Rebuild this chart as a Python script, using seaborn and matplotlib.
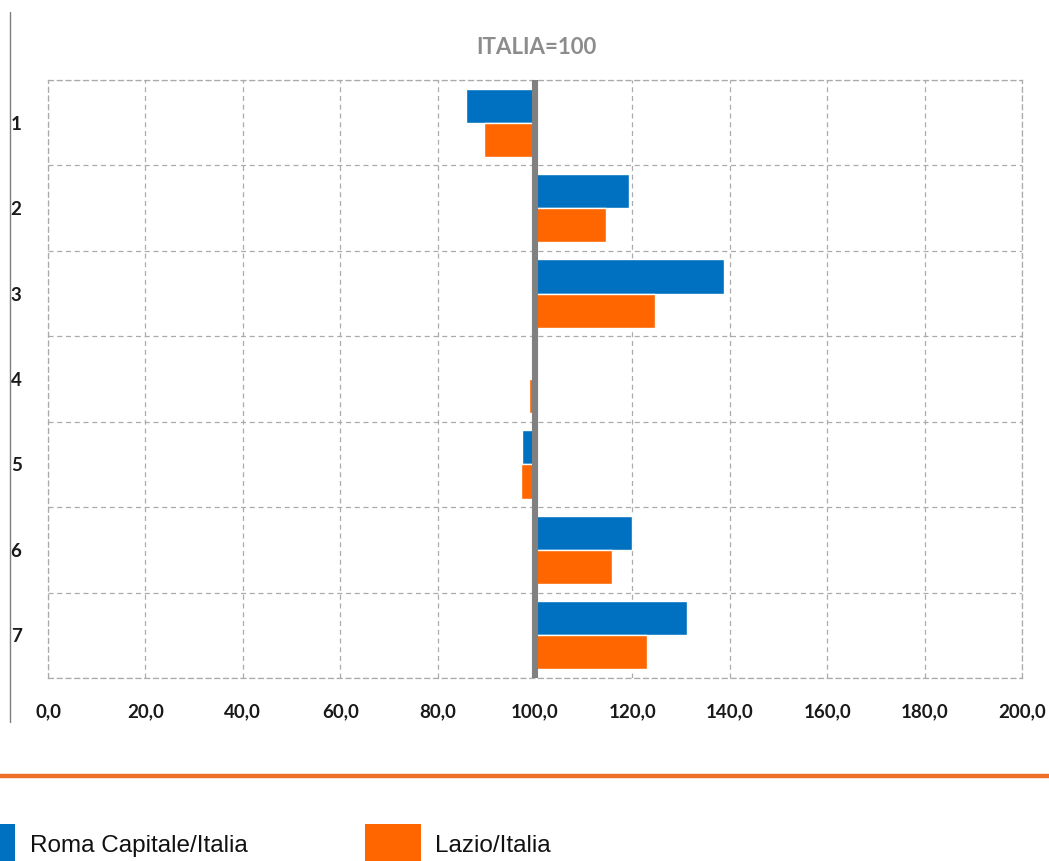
import matplotlib
matplotlib.use("Agg")
import matplotlib.pyplot as plt
import matplotlib.ticker as mticker
from matplotlib.lines import Line2D
from matplotlib.patches import Rectangle
import pandas as pd
import seaborn as sns

# data (index, ITALIA = 100)
categories = ["1", "2", "3", "4", "5", "6", "7"]
roma = [85.9, 119.4, 138.9, 99.6, 97.4, 119.9, 131.3]
lazio = [89.6, 114.5, 124.7, 98.8, 97.1, 115.9, 123.1]
series_names = ["Roma Capitale/Italia", "Lazio/Italia"]
base = 100.0
x_ticks = [0, 20, 40, 60, 80, 100, 120, 140, 160, 180, 200]

colors = {"Roma Capitale/Italia": "#0070C0", "Lazio/Italia": "#FF6600"}

df = pd.DataFrame({
    "cat": categories * 2,
    "serie": [series_names[0]] * len(categories) + [series_names[1]] * len(categories),
    "valore": roma + lazio,
})
# bars grow out of the 100 line
df["delta"] = df["valore"] - base

sns.set_theme(style="white")
plt.rcParams["font.family"] = ["Lato", "DejaVu Sans"]

fig = plt.figure(figsize=(10.49, 8.61), dpi=100)
ax = fig.add_axes([48 / 1049, 1 - 678 / 861, 974 / 1049, 598 / 861])

sns.barplot(data=df, x="delta", y="cat", hue="serie", order=categories,
            hue_order=series_names, palette=colors, orient="h",
            width=0.8, saturation=1, legend=False, ax=ax, zorder=3)

ax.set_xlim(-base, 200 - base)
ax.set_ylim(len(categories) - 0.5, -0.5)
ax.set_xticks([t - base for t in x_ticks])
ax.xaxis.set_major_formatter(mticker.FuncFormatter(
    lambda v, pos: f"{v + base:.1f}".replace(".", ",")))
ax.set_yticks(range(len(categories)))
ax.set_yticklabels(categories)
ax.yaxis.set_minor_locator(mticker.FixedLocator([i + 0.5 for i in range(-1, len(categories))]))

grid_kw = dict(color="#ababab", linestyle=(0, (4, 3)), linewidth=0.9)
ax.grid(axis="x", which="major", **grid_kw)
ax.grid(axis="y", which="minor", **grid_kw)
ax.grid(axis="y", which="major", visible=False)
for sp in ax.spines.values():
    sp.set_visible(True)
    sp.set_color("#ababab")
    sp.set_linestyle((0, (4, 3)))
    sp.set_linewidth(0.9)

ax.tick_params(axis="both", which="both", length=0)
ax.tick_params(axis="y", pad=19)
ax.tick_params(axis="x", pad=18)
for lab in ax.get_xticklabels() + ax.get_yticklabels():
    lab.set_fontsize(13.5)
    lab.set_fontweight("bold")
    lab.set_color("#1a1a1a")
ax.set_xlabel("")
ax.set_ylabel("")

# ITALIA = 100 reference line
ax.axvline(0, color="#808080", linewidth=4.4, zorder=4)

fig.text(536 / 1049, 1 - 48 / 861, "ITALIA=100", ha="center", va="center",
         fontsize=16, fontweight="bold", color="#8c8c8c")

# decorations around the chart
fig.add_artist(Line2D([10 / 1049, 10 / 1049], [1 - 12 / 861, 1 - 722 / 861],
                      color="#7f7f7f", linewidth=1.0))
fig.add_artist(Line2D([0, 1], [1 - 776 / 861, 1 - 776 / 861],
                      color="#EE6F27", linewidth=3.2))

# legend
legend_items = [(series_names[0], -41, 30), (series_names[1], 365, 435)]
for name, px, tx in legend_items:
    fig.add_artist(Rectangle((px / 1049, 1 - 870 / 861), 56 / 1049, 46 / 861,
                             facecolor=colors[name], edgecolor="none",
                             transform=fig.transFigure))
    fig.text(tx / 1049, 1 - 846 / 861, name, ha="left", va="center",
             fontsize=17.5, color="#111111",
             family=["Liberation Sans", "DejaVu Sans"])

fig.savefig("out.png", dpi=100)
